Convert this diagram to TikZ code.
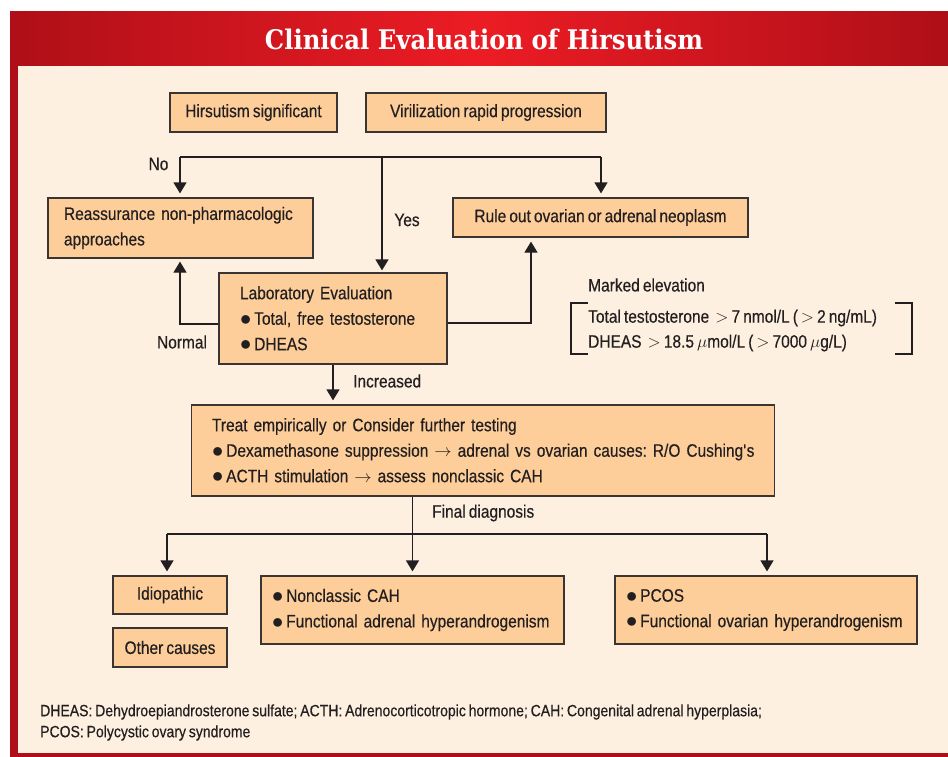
\documentclass[tikz,border=0pt]{standalone}
\usepackage{fontspec}
\setmainfont[FakeStretch=0.86, WordSpace=0.72, FakeBold=0.4]{Liberation Sans}
\newfontfamily\titlefont[FakeStretch=0.9]{DejaVu Serif}
\usetikzlibrary{arrows.meta}
\frenchspacing
\definecolor{cream}{HTML}{FDF0E0}
\definecolor{boxfill}{HTML}{FDCE9A}
\definecolor{boxline}{HTML}{3A3532}
\definecolor{darkred}{HTML}{AF0F18}
\definecolor{brightred}{HTML}{EC1C24}
\definecolor{txt}{HTML}{231F20}
\newcommand\bul{\raisebox{-0.6pt}{\scalebox{1.3}{$\bullet$}}\hspace{3pt}}
\newcommand\oneline[1]{\mbox{#1}}
\tikzset{
  box/.style={draw=boxline, fill=boxfill, line width=1.2pt, text=txt, font=\fontsize{18}{25.5}\selectfont, inner ysep=0pt},
  lbox/.style={box, align=left},
  cbox/.style={box, align=center, inner xsep=0pt},
  conn/.style={draw=txt, line width=1.2pt},
  arr/.style={conn, -{Triangle[width=13pt,length=11pt]}, shorten >=4pt},
  lab/.style={text=txt, font=\fontsize{18}{25}\selectfont, inner sep=0pt}
}
\begin{document}
\begin{tikzpicture}[x=1pt,y=-1pt]
\useasboundingbox (0,0) rectangle (948,757);
\fill[white] (0,0) rectangle (948,757);
% frame
\fill[cream] (10,12) rectangle (948,757);
\shade[left color=darkred, right color=darkred, middle color=brightred] (10,12) rectangle (948,66);
\fill[darkred] (10,12) rectangle (18,757);
\fill[darkred] (10,753) rectangle (948,757);
\node[text=white, font=\titlefont\bfseries\fontsize{27}{30}\selectfont, inner sep=0pt] (title) at (484,39) {Clinical Evaluation of Hirsutism};

% boxes
\node[cbox, minimum width=167, minimum height=39] (hirs) at (253.5,112.5) {Hirsutism significant};
\node[cbox, minimum width=240, minimum height=39] (viril) at (486,112.5) {Virilization rapid progression};
\node[lbox, text width=233, inner xsep=16, minimum height=60] (reass) at (180.5,228) {\oneline{Reassurance non-pharmacologic}\\\oneline{approaches}};
\node[cbox, minimum width=295, minimum height=39] (rule) at (600.5,217.5) {Rule out ovarian or adrenal neoplasm};
\node[lbox, text width=186, inner xsep=21, minimum height=91] (labev) at (333,318.5) {\oneline{Laboratory Evaluation}\\\oneline{\bul Total, free testosterone}\\\oneline{\bul DHEAS}};
\node[lbox, text width=542, inner xsep=20.5, minimum height=91] (treat) at (483,450.5) {\oneline{Treat empirically or Consider further testing}\\\oneline{\bul Dexamethasone suppression $\rightarrow$ adrenal vs ovarian causes: R/O Cushing\textquotesingle s}\\\oneline{\bul ACTH stimulation $\rightarrow$ assess nonclassic CAH}};
\node[cbox, minimum width=114, minimum height=38] (idio) at (170,595) {Idiopathic};
\node[cbox, minimum width=114, minimum height=39] (other) at (170,647.5) {Other causes};
\node[lbox, text width=281, inner xsep=11, minimum height=68] (ncah) at (412.5,610) {\oneline{\bul Nonclassic CAH}\\\oneline{\bul Functional adrenal hyperandrogenism}};
\node[lbox, text width=280, inner xsep=11, minimum height=68] (pcos) at (766,610) {\oneline{\bul PCOS}\\\oneline{\bul Functional ovarian hyperandrogenism}};

% labels
\node[lab] (no) at (158.5,164) {No};
\node[lab] (yes) at (407,220) {Yes};
\node[lab] (normal) at (182,342) {Normal};
\node[lab, anchor=west] (incr) at (353,381) {Increased};
\node[lab, anchor=west] (final) at (432,513) {Final diagnosis};
\node[lab, anchor=west] (marked) at (588,285) {Marked elevation};
\node[lab, anchor=west] (tt) at (588,318) {Total testosterone \ $>$\,7 nmol/L (\,$>$\,2 ng/mL)};
\node[lab, anchor=west] (dh) at (588,343) {DHEAS \ $>$\,18.5 $\mu$mol/L (\,$>$\,7000 $\mu$g/L)};
\draw[conn] (588,303) -- (571,303) -- (571,354) -- (588,354);
\draw[conn] (895,303) -- (912,303) -- (912,354) -- (895,354);

\node[lab, anchor=west, font=\fontsize{16.3}{21}\selectfont, align=left] (foot) at (40,722.5) {DHEAS: Dehydroepiandrosterone sulfate; ACTH: Adrenocorticotropic hormone; CAH: Congenital adrenal hyperplasia;\\PCOS: Polycystic ovary syndrome};

% connectors
\coordinate (tl) at (180,157);
\coordinate (tm) at (382,157);
\coordinate (tr) at (601,157);
\draw[conn] (tl) -- (tr);
\draw[arr] (tl) -- (reass.north -| tl);
\draw[arr, shorten >=2pt] (tm) -- (labev.north -| tm);
\draw[arr] (tr) -- (rule.north -| tr);
\coordinate (nl) at (180,324);
\draw[arr, shorten >=3pt] (labev.west |- nl) -- (nl) -- (reass.south -| nl);
\coordinate (nr) at (531,323);
\draw[arr] (labev.east |- nr) -- (nr) -- (rule.south -| nr);
\coordinate (ic) at (333,364);
\draw[arr] (labev.south -| ic) -- (treat.north -| ic);
\coordinate (fm) at (412.5,534);
\coordinate (fl) at (167,534);
\coordinate (fr) at (767,534);
\draw[conn] (fl) -- (fr);
\draw[arr] (treat.south -| fm) -- (ncah.north -| fm);
\draw[arr] (fl) -- (idio.north -| fl);
\draw[arr] (fr) -- (pcos.north -| fr);
\end{tikzpicture}
\end{document}
